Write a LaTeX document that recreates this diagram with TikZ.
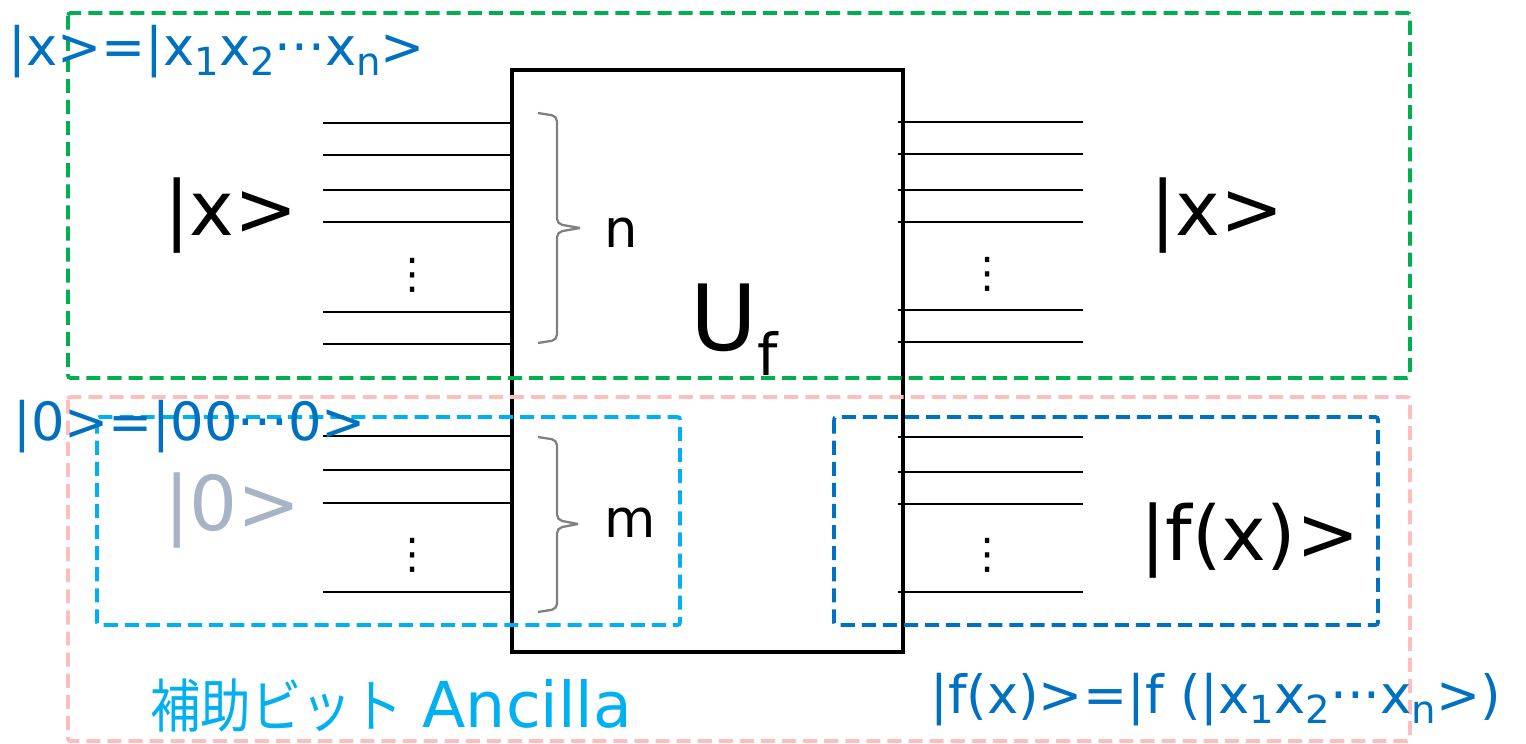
\documentclass[tikz,border=0pt]{standalone}
\usepackage{fontspec}
\setmainfont{DejaVu Sans}
\newfontfamily\jpfont[FakeStretch=0.87]{Noto Sans CJK JP}
\usetikzlibrary{positioning}

\definecolor{regiongreen}{RGB}{0,176,80}
\definecolor{regionpink}{RGB}{255,190,190}
\definecolor{ancillacyan}{RGB}{0,176,240}
\definecolor{outblue}{RGB}{0,112,192}
\definecolor{zerogray}{RGB}{166,180,198}
\definecolor{bracegray}{RGB}{128,128,128}

\newcommand{\ketsub}[1]{\raisebox{-0.2em}{\fontsize{22}{24}\selectfont #1}}

\begin{document}
\begin{tikzpicture}[
    x=0.02cm,y=-0.02cm,
    wire/.style={line width=1.1pt},
    gatebox/.style={rectangle,draw,line width=2.5pt,minimum width=7.82cm,minimum height=11.64cm,inner sep=0pt},
    region/.style={dash pattern=on 8pt off 4pt,line width=2.2pt,rounded corners=1.5pt},
    curly/.style={draw=bracegray,line width=1.3pt,rounded corners=3pt},
    lbl/.style={inner sep=0pt,anchor=base west},
    bigket/.style={lbl,font=\fontsize{43}{50}\selectfont},
    eqlbl/.style={lbl,text=outblue,font=\fontsize{30}{36}\selectfont},
    count/.style={lbl,font=\fontsize{30}{36}\selectfont},
    vdotsnode/.style={inner sep=0pt,font=\fontsize{24}{28}\selectfont}
    ]
    \useasboundingbox (0,0) rectangle (1526,744);

    % the oracle gate
    \node[gatebox] (uf) at (707.5,361) {};
    \node[lbl,font=\fontsize{52}{60}\selectfont] (uflabel) at (690,350) {U\raisebox{-0.28em}{\fontsize{33}{36}\selectfont f}};

    % input wires
    \draw[wire] (323,123)--(510,123) (323,155)--(510,155) (323,190)--(510,190)
                (323,222)--(510,222) (323,312)--(510,312) (323,344)--(510,344);
    \draw[wire] (323,436)--(510,436) (323,470)--(510,470) (323,503)--(510,503)
                (323,592)--(510,592);

    % output wires
    \draw[wire] (898,122)--(1083,122) (898,154)--(1083,154) (898,190)--(1083,190)
                (898,222)--(1083,222) (898,310)--(1083,310) (898,342)--(1083,342);
    \draw[wire] (898,437)--(1083,437) (898,472)--(1083,472) (898,504)--(1083,504)
                (898,592)--(1083,592);

    \node[vdotsnode] (dotsxin) at (413,275) {⋮};
    \node[vdotsnode] (dotsxout) at (988,274) {⋮};
    \node[vdotsnode] (dotszin) at (413,555) {⋮};
    \node[vdotsnode] (dotsfout) at (988,555) {⋮};

    % braces
    \draw[curly] (538,113)--(557,116)--(557,224)--(580,228);
    \draw[curly] (538,343)--(557,340)--(557,232)--(580,228);
    \draw[curly] (538,437)--(557,440)--(557,520)--(578,524);
    \draw[curly] (538,612)--(557,609)--(557,528)--(578,524);
    \node[count] (nlabel) at (604,247) {n};
    \node[count] (mlabel) at (604,537) {m};

    % states
    \node[bigket] (xin) at (164,235) {|x>};
    \node[bigket] (xout) at (1150,235) {|x>};
    \node[bigket,text=zerogray] (zin) at (164,530) {|0>};
    \node[bigket] (fout) at (1140,560) {|f(x)>};

    % regions
    \draw[region,draw=regiongreen] (68,13) rectangle (1410,378);
    \draw[region,draw=regionpink] (68,397) rectangle (1410,741);
    \draw[region,draw=ancillacyan] (97,417) rectangle (680,625);
    \draw[region,draw=outblue] (834,417) rectangle (1378,625);

    % captions
    \node[eqlbl] (xdef) at (8,65) {|x>=|x\ketsub{1}x\ketsub{2}···x\ketsub{n}>};
    \node[eqlbl] (zdef) at (13,440) {|0>=|00···0>};
    \node[eqlbl] (fdef) at (930,713) {|f(x)>=|f (|x\ketsub{1}x\ketsub{2}···x\ketsub{n}>)};
    \node[lbl,text=ancillacyan] (ancilla) at (150,727) {{\jpfont\fontsize{33}{38}\selectfont 補助ビット}{\fontsize{36}{42}\selectfont\ Ancilla}};

  \end{tikzpicture}
\end{document}
